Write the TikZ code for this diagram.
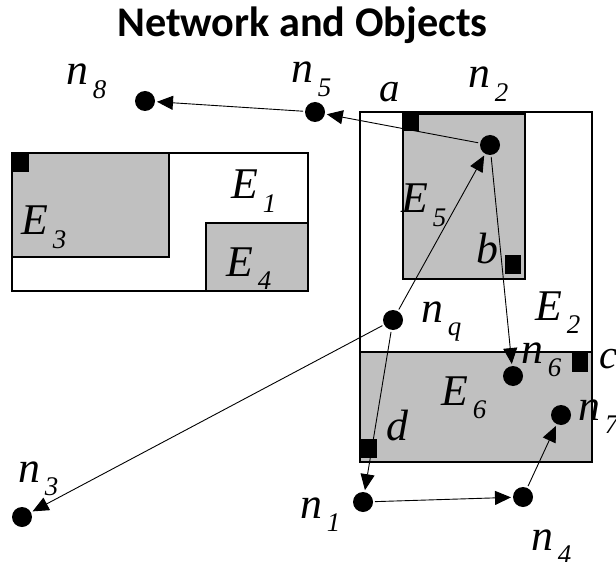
\documentclass[tikz,border=0pt]{standalone}
\usepackage{fontspec}
\setmainfont{Liberation Serif}
\newfontfamily\titlefont{Carlito}
\usetikzlibrary{arrows.meta}
\definecolor{boxgray}{HTML}{C0C0C0}
\newcommand\lbl[2]{\fontsize{44}{44}\selectfont\textit{#1}\kern5pt\raisebox{-14pt}{\fontsize{27}{27}\selectfont\textit{#2}}}
\newcommand\single[1]{\fontsize{41}{41}\selectfont\textit{#1}}
\tikzset{
  dot/.style={circle,fill=black,inner sep=0pt,minimum size=20bp,outer sep=2bp},
  conn/.style={line width=0.9bp,-{Triangle[length=16bp,width=14bp]}},
  region/.style={draw=black,line width=1.4bp},
  graybox/.style={region,fill=boxgray},
  whitebox/.style={region,fill=white},
  cornermark/.style={fill=black},
  lab/.style={anchor=base west,inner sep=0pt,outer sep=0pt},
}
\begin{document}
\begin{tikzpicture}[x=1bp,y=-1bp]
\useasboundingbox (0,0) rectangle (616,562);
% title
\node[inner sep=0pt,anchor=base] (title) at (302.5,37) {\titlefont\bfseries\fontsize{42.4}{42.4}\selectfont Network and Objects};
% region E1 with E3, E4
\draw[whitebox] (12,153) rectangle (308,291);
\draw[graybox] (12,153) rectangle (169,257);
\draw[graybox] (206,223) rectangle (308,291);
\fill[cornermark] (12,153) rectangle (29,172);
% region E2 with E5, E6
\draw[whitebox] (360,112) rectangle (592,462);
\draw[graybox] (403,114) rectangle (525,279);
\draw[graybox] (360,352) rectangle (592,462);
\fill[cornermark] (403,114) rectangle (419,131);
\fill[cornermark] (505,255) rectangle (521,274);
\fill[cornermark] (572,353) rectangle (588,372);
\fill[cornermark] (361,439) rectangle (377,458);
% dots
\node[dot] (n8) at (145,101) {};
\node[dot] (n5) at (315,112) {};
\node[dot] (n2) at (490,145) {};
\node[dot] (nq) at (393,320) {};
\node[dot] (n6) at (513,376) {};
\node[dot] (n7) at (561,415) {};
\node[dot] (n1) at (363,502) {};
\node[dot] (n4) at (523,497) {};
\node[dot] (n3) at (22,517) {};
% connectors
\draw[conn] (n5) -- (n8);
\draw[conn] (n2) -- (n5);
\draw[conn] (nq) -- (n2);
\draw[conn] (n2) -- (n6);
\draw[conn] (nq) -- (n1);
\draw[conn] (n1) -- (n4);
\draw[conn] (n4) -- (n7);
\draw[conn] (nq) -- (n3);
% labels
\node[lab] (ln8) at (66,85) {\lbl{n}{8}};
\node[lab] (ln5) at (291,83) {\lbl{n}{5}};
\node[lab] (ln2) at (468,88) {\lbl{n}{2}};
\node[lab] (la) at (379,102) {\single{a}};
\node[lab] (lnq) at (421,322) {\lbl{n}{q}};
\node[lab] (ln6) at (521,363) {\lbl{n}{6}};
\node[lab] (lc) at (599,368) {\single{c}};
\node[lab] (ln7) at (578,420) {\lbl{n}{7}};
\node[lab] (ld) at (386,440) {\fontsize{44}{44}\selectfont\textit{d}};
\node[lab] (lb) at (476,263) {\fontsize{44}{44}\selectfont\textit{b}};
\node[lab] (ln3) at (18,482) {\lbl{n}{3}};
\node[lab] (ln1) at (300,518) {\lbl{n}{1}};
\node[lab] (ln4) at (531,550) {\lbl{n}{4}};
\node[lab] (lE1) at (231,199) {\lbl{E}{1}};
\node[lab] (lE3) at (21,235) {\lbl{E}{3}};
\node[lab] (lE4) at (226,276) {\lbl{E}{4}};
\node[lab] (lE5) at (401,213) {\lbl{E}{5}};
\node[lab] (lE2) at (535,320) {\lbl{E}{2}};
\node[lab] (lE6) at (441,405) {\lbl{E}{6}};
\end{tikzpicture}
\end{document}
